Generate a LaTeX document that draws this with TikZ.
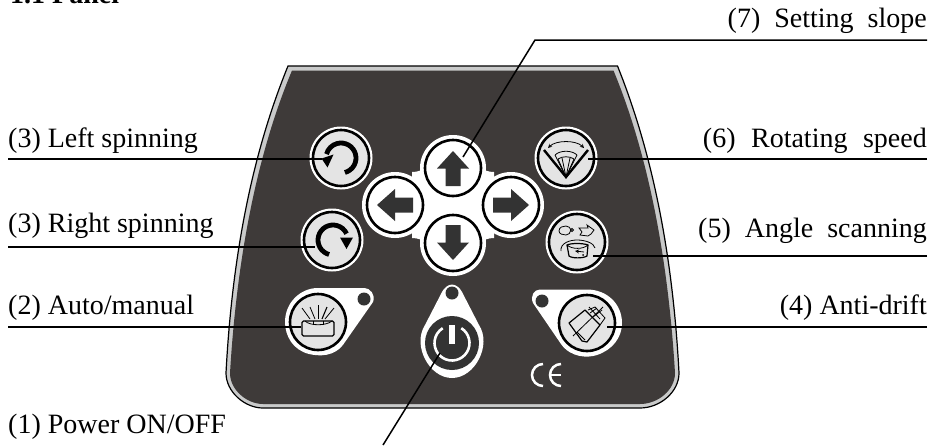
\documentclass[tikz,border=0pt]{standalone}
\usepackage{fontspec}
\setmainfont{Liberation Serif}
\definecolor{panel}{HTML}{3E3A39}
\definecolor{rim}{HTML}{C9CACA}
\definecolor{face}{HTML}{E4E4E4}
\definecolor{ink}{HTML}{333333}
\newcommand{\outline}{(288,66) -- (617.5,66) .. controls (648,142) and (672,240) .. (679,373)
  .. controls (679,392) and (660,408) .. (640,408) -- (263,408)
  .. controls (245,408) and (226,392) .. (226,373) .. controls (233,240) and (257,142) .. (288,66) -- cycle}
\newcommand{\innerline}{(292,70.5) -- (613.5,70.5) .. controls (643,142) and (667,240) .. (675,373)
  .. controls (675,390) and (658,404) .. (640,404) -- (263,404)
  .. controls (247,404) and (230,390) .. (230,373) .. controls (238,240) and (262,142) .. (292,70.5) -- cycle}
\begin{document}
\begin{tikzpicture}[x=1pt,y=-1pt,
  label/.style={font=\fontsize{28}{30}\selectfont,inner sep=0pt,anchor=base west},
  rlabel/.style={font=\fontsize{28}{30}\selectfont,inner sep=0pt,anchor=base east},
  head/.style={font=\fontsize{28}{30}\selectfont\bfseries,inner sep=0pt,anchor=base west},
  halo/.style={circle,fill=white,minimum size=63pt,inner sep=0pt},
  btn/.style={circle,draw=black,line width=2.6pt,fill=face,minimum size=56pt,inner sep=0pt},
  btnw/.style={circle,draw=black,line width=2.6pt,fill=white,minimum size=56pt,inner sep=0pt},
  lead/.style={draw=black,line width=1.5pt},
  thin/.style={draw=black,line width=0.8pt},
  med/.style={draw=black,line width=1.2pt},
  spin/.style={draw=black,line width=4.8pt},
  hole/.style={circle,fill=ink,minimum size=13pt,inner sep=0pt}]
\useasboundingbox (0,0) rectangle (931,445);
\path[clip] (0,0) rectangle (931,445);
% panel
\path[draw=black,line width=1.2pt,fill=rim] \outline;
\path[fill=panel] \innerline;
% heading
\node[head] (title) at (10,3) {1.1 Panel};
% halos
\node[halo] (lsh) at (341,158) {};
\node[halo] (rsh) at (332,240) {};
\node[halo] (rth) at (566,158) {};
\node[halo] (ash) at (577,242) {};
% white cross
\fill[white] (453,168) circle (33) (395,205) circle (33) (511,205) circle (33) (453,243) circle (33);
\fill[white] (453,168) -- (395,205) -- (453,243) -- (511,205) -- cycle;
\fill[white] (412,172) .. controls (424,172) and (428,165) .. (430,155) -- (476,155)
  .. controls (478,165) and (482,172) .. (494,172) -- (494,238) .. controls (482,238) and (478,245) .. (476,255)
  -- (430,255) .. controls (428,245) and (424,238) .. (412,238) -- cycle;
% teardrops
\fill[white] (364.5,288) .. controls (370,288) and (376,295) .. (373,302)
  -- (345,342) .. controls (335,358) and (318,356) .. (309,354)
  .. controls (293,350) and (285,336) .. (285,322) .. controls (285,303) and (300,288) .. (318,288) -- cycle;
\fill[white] (452,284.5) .. controls (456,284.5) and (460,288) .. (462,292) -- (479,325)
  .. controls (492,345) and (475,378) .. (452,378) .. controls (429,378) and (412,345) .. (425,325)
  -- (442,292) .. controls (444,288) and (448,284.5) .. (452,284.5) -- cycle;
\fill[white] (540,289.5) .. controls (534,289.5) and (530,296) .. (533,303)
  -- (561,344) .. controls (571,358) and (588,358) .. (597,355)
  .. controls (612,350) and (622,338) .. (622,323) .. controls (622,304) and (607,289.5) .. (587,289.5) -- cycle;
\node[hole] (hole2) at (364,299) {};
\node[hole] (hole1) at (452,293) {};
\node[hole] (hole4) at (542,301) {};
% buttons
\node[btn] (left) at (341,158) {};
\node[btn] (right) at (332,240) {};
\node[btnw] (up) at (453,168) {};
\node[btnw] (lft) at (395,205) {};
\node[btnw] (rgt) at (511,205) {};
\node[btnw] (dwn) at (453,243) {};
\node[btn] (rot) at (566,158) {};
\node[btn] (scan) at (577,242) {};
\node[btn] (auto) at (318,322) {};
\node[btn] (drift) at (587,323) {};
\node[circle,fill=ink,minimum size=54pt,inner sep=0pt] (pow) at (452,343) {};
% arrows
\fill[ink] (453,151) -- (469,168.5) -- (460.5,168.5) -- (460.5,186) -- (445.5,186) -- (445.5,168.5) -- (437,168.5) -- cycle;
\fill[ink] (453,260) -- (469,242.5) -- (460.5,242.5) -- (460.5,225) -- (445.5,225) -- (445.5,242.5) -- (437,242.5) -- cycle;
\fill[ink] (377,205) -- (395,189) -- (395,197.5) -- (413,197.5) -- (413,212.5) -- (395,212.5) -- (395,221) -- cycle;
\fill[ink] (529,205) -- (511,189) -- (511,197.5) -- (493,197.5) -- (493,212.5) -- (511,212.5) -- (511,221) -- cycle;
% spins
\draw[spin] (341,158) ++(75:15) arc (75:-165:15);
\fill[black] (321.5,158.5) -- (333.5,154.5) -- (327.5,167.5) -- cycle;
\draw[spin] (333,240) ++(105:15) arc (105:335:15);
\fill[black] (340,237.5) -- (353,237.5) -- (346.5,249) -- cycle;
% rotating speed icon
\draw[draw=black,line width=2.4pt,line join=miter] (544,150) -- (566,177) -- (588,150);
\draw[thin,<->,>=stealth] (548,148) .. controls (556,140) and (576,140) .. (584,148);
\draw[thin] (555,155) .. controls (560,150) and (572,150) .. (577,155);
\draw[thin] (558,159) .. controls (562,156) and (570,156) .. (574,159);
\draw[thin] (555,155) -- (566,177) -- (577,155);
\draw[thin] (558,159) -- (566,177) -- (574,159);
\draw[thin] (562,158) -- (566,177) -- (570,158);
% scan icon
\draw[thin] (559,231) .. controls (559,227) and (563,226) .. (566,226) .. controls (569,226) and (570,228) .. (571,230)
  .. controls (570,233) and (569,235) .. (566,235) .. controls (563,235) and (559,234) .. (559,231) -- cycle;
\draw[thin] (572,230) circle (1.5);
\draw[thin] (579,228) -- (588,228) -- (587,225) -- (594,230) -- (591,234) -- (588,236) -- (580,235) -- (582,232) -- cycle;
\draw[thin] (561,251) .. controls (560,243) and (570,240) .. (577,240) .. controls (585,240) and (594,243) .. (595,248);
\draw[med] (567,245) .. controls (571,243) and (583,243) .. (588,245) -- (587,256) .. controls (583,258.5) and (572,258.5) .. (569,256) -- cycle;
\draw[thin] (567,245) .. controls (572,249.5) and (583,249.5) .. (588,245);
\draw[thin,->,>=stealth] (584,252) -- (575,251);
\fill[black] (583,255) circle (1);
% drift icon
\draw[med,line join=round] (569,323) -- (585,310) -- (600,325) -- (587,342) -- (582,341) -- cycle;
\draw[thin] (588,310) -- (595,307) -- (605,318) -- (600,325);
\draw[thin] (590,313) -- (597,308) (593,317) -- (602,310) (589,307) -- (600,319);
\draw[thin] (573,336) -- (603,307);
\draw[thin] (577,332) -- (585,340);
% auto icon
\draw[med,rounded corners=1.5pt] (302,321) -- (334,321) -- (334,336) -- (302,336) -- cycle;
\draw[thin] (305,321) .. controls (310,326) and (326,326) .. (332,321);
\draw[thin] (313,321) -- (313,325) (323,321) -- (323,325);
\draw[thin] (302,308) -- (310,319);
\draw[thin] (310,307) -- (315,319);
\draw[draw=black,line width=1pt] (318.5,305) -- (318.5,319);
\draw[draw=black,line width=1.1pt] (327,307) -- (322,319);
\draw[thin] (334,308) -- (325,319);
% power symbol
\draw[draw=white,line width=2.6pt] (452,343) ++(-58:17.5) arc (-58:238:17.5);
\fill[white] (449,325) -- (455,325) -- (455,344) -- (449,344) -- cycle;
% CE
\draw[draw=white,line width=2.5pt] (543,364) arc (-90:-270:11);
\draw[draw=white,line width=2.5pt] (561,364) arc (-90:-270:11);
\draw[draw=white,line width=2.3pt] (551,375) -- (561,375);
% anchors
\coordinate (a7) at (535,40);
\coordinate (a7r) at (927,40);
\coordinate (a7t) at (463,157);
\coordinate (a3l) at (8,159);
\coordinate (a3lt) at (322,159);
\coordinate (a3r) at (8,247);
\coordinate (a3rt) at (315,247);
\coordinate (a2) at (8,327);
\coordinate (a2t) at (301,327);
\coordinate (a6) at (927,159);
\coordinate (a6t) at (588,159);
\coordinate (a5) at (927,256);
\coordinate (a5t) at (593,256);
\coordinate (a4) at (927,327);
\coordinate (a4t) at (607,327);
\coordinate (a1) at (383,445);
\coordinate (a1t) at (440,353);
\draw[lead] (a7r) -- (a7) -- (a7t);
\draw[lead] (a3l) -- (a3lt);
\draw[lead] (a3r) -- (a3rt);
\draw[lead] (a2) -- (a2t);
\draw[lead] (a6) -- (a6t);
\draw[lead] (a5) -- (a5t);
\draw[lead] (a4) -- (a4t);
\draw[lead] (a1) -- (a1t);
% labels
\node[label] (l3a) at (8,147) {(3) Left spinning};
\node[label] (l3b) at (8,232) {(3) Right spinning};
\node[label] (l2) at (8,314) {(2) Auto/manual};
\node[label] (l1) at (8,433) {(1) Power ON/OFF};
\node[rlabel] (l7) at (927,27) {(7)\hspace{7pt} Setting\hspace{7pt} slope};
\node[rlabel] (l6) at (927,147) {(6)\hspace{8.5pt} Rotating\hspace{8.5pt} speed};
\node[rlabel] (l5) at (927,237) {(5)\hspace{7pt} Angle\hspace{7pt} scanning};
\node[rlabel] (l4) at (927,314) {(4) Anti-drift};
\end{tikzpicture}
\end{document}
